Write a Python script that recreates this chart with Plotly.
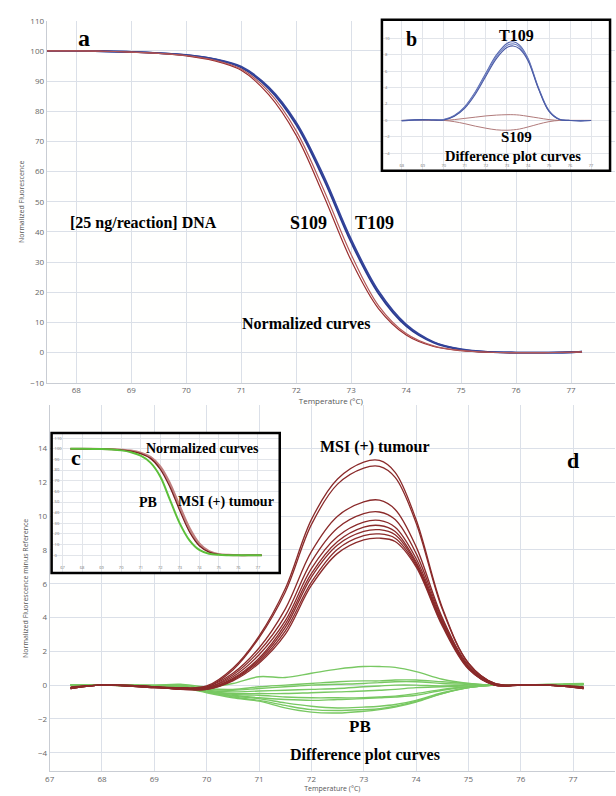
import plotly.graph_objects as go

W, H = 616, 796

# ---------------- Panel a : normalized melting curves ----------------
temp_a = [67.4, 68, 68.5, 69, 69.5, 70, 70.5, 71, 71.5, 72, 72.5, 73, 73.5, 74, 74.5, 75, 75.5, 76, 76.5, 77, 77.2]
s109_norm_1 = [100, 100, 99.9, 99.6, 99.2, 98.4, 96.8, 93.6, 85.5, 72, 52, 30.5, 14.5, 5.8, 2.0, 0.6, 0.1, 0, 0, 0.1, 0.2]
s109_norm_2 = [100, 100, 99.9, 99.6, 99.2, 98.5, 97.0, 94.0, 86.5, 73.5, 54, 32.5, 15.5, 6.3, 2.2, 0.7, 0.1, 0, 0, 0.1, 0.2]
t109_norm_1 = [100, 100, 99.9, 99.7, 99.3, 98.6, 97.3, 94.5, 87.5, 75.5, 57.5, 36.5, 19.5, 8.8, 3.3, 1.0, 0.2, 0, 0, 0.1, 0.3]
t109_norm_2 = [100, 100, 99.9, 99.7, 99.3, 98.7, 97.4, 94.8, 88, 76.3, 58.5, 37.5, 20.3, 9.3, 3.5, 1.1, 0.2, 0, 0, 0.1, 0.3]
ticks_a_x = [68, 69, 70, 71, 72, 73, 74, 75, 76, 77]
ticks_a_y = [-10, 0, 10, 20, 30, 40, 50, 60, 70, 80, 90, 100, 110]

# ---------------- Inset b : difference plot ----------------
temp_b = [68, 69, 69.5, 70, 70.5, 71, 71.5, 72, 72.5, 73, 73.3, 73.6, 74, 74.5, 75, 75.5, 76, 76.5, 77]
t109_diff_1 = [0, 0.1, 0.05, 0.1, 0.6, 1.7, 3.5, 5.8, 8.0, 9.4, 9.6, 9.2, 7.6, 4.0, 1.2, 0.15, 0, -0.05, 0]
t109_diff_2 = [0, 0.05, 0.1, 0.1, 0.55, 1.6, 3.4, 5.6, 7.8, 9.15, 9.35, 9.0, 7.45, 3.9, 1.15, 0.1, 0, 0, 0]
t109_diff_3 = [-0.05, 0.1, 0.05, 0.05, 0.5, 1.5, 3.2, 5.4, 7.55, 8.9, 9.1, 8.75, 7.3, 3.85, 1.1, 0.1, 0, -0.05, 0]
s109_diff_up = [0, 0, 0, 0, 0.1, 0.25, 0.4, 0.55, 0.65, 0.7, 0.7, 0.65, 0.5, 0.3, 0.1, 0, 0, 0, 0]
s109_diff_down = [0, 0, 0, 0, -0.15, -0.4, -0.7, -0.95, -1.15, -1.2, -1.15, -1.05, -0.8, -0.45, -0.15, 0, 0, 0, 0]
ticks_b_x = [68, 69, 70, 71, 72, 73, 74, 75, 76, 77]
ticks_b_y = [-4, -2, 0, 2, 4, 6, 8, 10]

# ---------------- Panel d : difference plot ----------------
temp_d = [67.4, 68, 69, 69.5, 70, 70.5, 71, 71.5, 72, 72.5, 73, 73.3, 73.6, 74, 74.5, 75, 75.5, 76, 76.5, 77.2]
msi_diff = [
    [-0.15, 0.0, -0.1, -0.15, -0.05, 1.0, 2.9, 5.7, 9.8, 12.2, 13.2, 13.3, 12.6, 9.8, 4.6, 1.3, 0.1, 0.0, 0.0, -0.15],
    [-0.1, 0.0, -0.1, -0.2, -0.1, 0.9, 2.8, 5.5, 9.5, 11.9, 12.85, 12.95, 12.3, 9.6, 4.5, 1.3, 0.1, 0.0, 0.0, -0.1],
    [-0.2, 0.0, -0.15, -0.2, -0.1, 0.7, 2.2, 4.5, 7.9, 10.0, 10.85, 10.95, 10.4, 8.2, 4.0, 1.2, 0.1, 0.0, 0.0, -0.15],
    [-0.15, 0.0, -0.1, -0.2, -0.15, 0.6, 2.0, 4.1, 7.3, 9.3, 10.15, 10.25, 9.8, 7.8, 3.9, 1.1, 0.05, 0.0, 0.0, -0.1],
    [-0.2, 0.0, -0.1, -0.25, -0.15, 0.5, 1.8, 3.8, 6.9, 8.8, 9.65, 9.75, 9.35, 7.5, 3.8, 1.1, 0.05, 0.0, 0.0, -0.2],
    [-0.15, 0.0, -0.15, -0.2, -0.2, 0.4, 1.6, 3.6, 6.6, 8.5, 9.35, 9.45, 9.1, 7.3, 3.7, 1.0, 0.05, 0.0, 0.0, -0.15],
    [-0.2, 0.0, -0.1, -0.25, -0.2, 0.35, 1.5, 3.4, 6.4, 8.3, 9.1, 9.2, 8.9, 7.2, 3.6, 1.0, 0.0, 0.0, 0.0, -0.2],
    [-0.15, 0.0, -0.15, -0.2, -0.25, 0.3, 1.4, 3.2, 6.1, 8.05, 8.85, 8.95, 8.7, 7.1, 3.6, 1.0, 0.0, 0.0, 0.0, -0.15],
    [-0.2, 0.0, -0.1, -0.25, -0.25, 0.25, 1.3, 3.0, 5.9, 7.8, 8.6, 8.7, 8.5, 7.0, 3.5, 0.95, 0.0, 0.0, 0.0, -0.2],
]
pb_diff = [
    [0.0, 0.0, 0.0, 0.05, -0.1, 0.1, 0.5, 0.45, 0.7, 0.95, 1.1, 1.1, 1.05, 0.8, 0.35, 0.1, 0.0, 0.0, 0.0, 0.05],
    [0.0, 0.0, -0.05, 0.0, -0.2, -0.25, -0.1, 0.0, 0.1, 0.2, 0.25, 0.25, 0.3, 0.3, 0.2, 0.1, 0.0, 0.0, 0.0, 0.05],
    [0.0, 0.0, 0.0, -0.05, -0.25, -0.3, -0.2, -0.1, 0.0, 0.05, 0.1, 0.15, 0.2, 0.2, 0.1, 0.05, 0.0, 0.0, 0.05, 0.1],
    [0.0, 0.0, -0.05, -0.05, -0.3, -0.4, -0.35, -0.3, -0.25, -0.2, -0.1, -0.05, 0.0, 0.0, -0.05, 0.0, 0.0, 0.0, 0.0, 0.05],
    [0.0, 0.0, -0.05, -0.1, -0.35, -0.5, -0.5, -0.5, -0.45, -0.4, -0.35, -0.3, -0.25, -0.15, -0.1, -0.05, 0.0, 0.0, 0.0, 0.0],
    [0.0, 0.0, -0.05, -0.1, -0.35, -0.55, -0.6, -0.7, -0.75, -0.75, -0.75, -0.7, -0.65, -0.5, -0.25, -0.1, 0.0, 0.0, 0.0, 0.05],
    [0.0, 0.0, -0.05, -0.1, -0.4, -0.6, -0.75, -0.85, -0.9, -0.85, -0.8, -0.75, -0.7, -0.6, -0.3, -0.1, 0.0, 0.0, 0.0, 0.05],
    [0.0, 0.0, -0.05, -0.1, -0.4, -0.65, -0.8, -1.05, -1.25, -1.35, -1.3, -1.25, -1.15, -0.9, -0.45, -0.15, 0.0, 0.0, 0.0, 0.05],
    [0.0, 0.0, -0.05, -0.15, -0.4, -0.7, -0.9, -1.2, -1.45, -1.5, -1.45, -1.4, -1.25, -0.95, -0.5, -0.15, 0.0, 0.0, 0.0, 0.05],
    [0.0, 0.0, -0.05, -0.15, -0.45, -0.75, -0.95, -1.35, -1.6, -1.65, -1.55, -1.45, -1.3, -1.0, -0.5, -0.15, 0.0, 0.0, 0.0, 0.05],
]
ticks_d_x = [67, 68, 69, 70, 71, 72, 73, 74, 75, 76, 77]
ticks_d_y = [-4, -2, 0, 2, 4, 6, 8, 10, 12, 14]

# ---------------- Inset c : normalized curves ----------------
temp_c = [67.4, 68, 69, 69.5, 70, 70.5, 71, 71.5, 72, 72.5, 73, 73.5, 74, 74.5, 75, 75.5, 76, 76.5, 77.2]
pb_norm = [100, 100, 99.7, 99.3, 98.5, 96.8, 93.5, 87, 74, 52, 30, 14, 5, 1.5, 0.4, 0.1, 0, 0, 0]
msi_norm_1 = [100, 100, 99.8, 99.5, 98.9, 97.8, 95.5, 91, 81, 64, 42, 22, 9, 3, 0.8, 0.2, 0, 0, 0]
msi_norm_2 = [100, 100, 99.8, 99.6, 99.1, 98.2, 96.2, 92.3, 83.5, 67.5, 46, 25.5, 11, 3.8, 1.0, 0.3, 0, 0, 0]
ticks_c_x = [67, 68, 69, 70, 71, 72, 73, 74, 75, 76, 77]
ticks_c_y = [-10, 0, 10, 20, 30, 40, 50, 60, 70, 80, 90, 100, 110]


def px(x):
    return x / W


def py(y):
    return 1 - y / H


GRID = "#dbe0e8"
AXL = "#c9cdd4"
TICKF = dict(family="Open Sans, Noto Sans, sans-serif", size=8, color="#666")
TINYF = dict(family="Open Sans, Noto Sans, sans-serif", size=4, color="#777")
SERIF = "Liberation Serif, Times New Roman, serif"

fig = go.Figure()

# panel a traces
for ys, col in [(t109_norm_1, "#2b3a8f"), (t109_norm_2, "#33449a")]:
    fig.add_trace(go.Scatter(x=temp_a, y=ys, mode="lines", line=dict(color=col, width=1.8, shape="spline"),
                             xaxis="x", yaxis="y", hoverinfo="skip"))
for ys, col in [(s109_norm_1, "#9a2e2e"), (s109_norm_2, "#b35a5a")]:
    fig.add_trace(go.Scatter(x=temp_a, y=ys, mode="lines", line=dict(color=col, width=1.2, shape="spline"),
                             xaxis="x", yaxis="y", hoverinfo="skip"))

# inset b traces
for ys in [s109_diff_up, s109_diff_down]:
    fig.add_trace(go.Scatter(x=temp_b, y=ys, mode="lines", line=dict(color="#b07a7a", width=1, shape="spline"),
                             xaxis="x2", yaxis="y2", hoverinfo="skip"))
for ys, col in [(t109_diff_1, "#5568b0"), (t109_diff_2, "#7585c4"), (t109_diff_3, "#4a5aa5")]:
    fig.add_trace(go.Scatter(x=temp_b, y=ys, mode="lines", line=dict(color=col, width=1.1, shape="spline"),
                             xaxis="x2", yaxis="y2", hoverinfo="skip"))

# panel d traces
for ys in pb_diff:
    fig.add_trace(go.Scatter(x=temp_d, y=ys, mode="lines", line=dict(color="#78c862", width=1.4, shape="spline"),
                             xaxis="x3", yaxis="y3", hoverinfo="skip"))
for ys in msi_diff:
    fig.add_trace(go.Scatter(x=temp_d, y=ys, mode="lines", line=dict(color="#8a2a2a", width=1.3, shape="spline"),
                             xaxis="x3", yaxis="y3", hoverinfo="skip"))

# inset c traces
fig.add_trace(go.Scatter(x=temp_c, y=msi_norm_2, mode="lines", line=dict(color="#c08080", width=2.2, shape="spline"),
                         xaxis="x4", yaxis="y4", hoverinfo="skip"))
fig.add_trace(go.Scatter(x=temp_c, y=msi_norm_1, mode="lines", line=dict(color="#7a2020", width=1.3, shape="spline"),
                         xaxis="x4", yaxis="y4", hoverinfo="skip"))
fig.add_trace(go.Scatter(x=temp_c, y=pb_norm, mode="lines", line=dict(color="#5cbf3a", width=2.0, shape="spline"),
                         xaxis="x4", yaxis="y4", hoverinfo="skip"))

# ---------- axes ----------
main_ax = dict(showgrid=True, gridcolor=GRID, gridwidth=1, showline=True, linecolor=AXL, zeroline=False,
               tickfont=TICKF, ticks="", tickmode="array")
inset_ax = dict(showgrid=True, gridcolor="#e2e5ea", gridwidth=1, showline=False, zeroline=False,
                tickfont=TINYF, ticks="", tickmode="array", ticklabelposition="inside")

fig.update_layout(
    # panel a: x 42..615 px, y 15..382 px
    xaxis=dict(**main_ax, domain=[px(42), px(615)], range=[67.46, 77.8], tickvals=ticks_a_x, anchor="y",
               title=dict(text="Temperature (°C)", font=dict(size=8, color="#555", family=TICKF["family"]), standoff=2)),
    yaxis=dict(**main_ax, domain=[py(382), py(15)], range=[-10, 110], tickvals=ticks_a_y, anchor="x",
               title=dict(text="Normalized Fluorescence", font=dict(size=7, color="#555", family=TICKF["family"]), standoff=4)),
    # inset b: box 380..610 x 14..167
    xaxis2=dict(**inset_ax, domain=[px(380), px(610)], range=[67.06, 77.9], tickvals=ticks_b_x, anchor="y2"),
    yaxis2=dict(**inset_ax, domain=[py(167), py(14)], range=[-6.14, 12.29], tickvals=ticks_b_y, anchor="x2"),
    # panel d: x 45..615 px, y 405..776 px
    xaxis3=dict(**main_ax, domain=[px(45), px(615)], range=[67.0, 77.8], tickvals=ticks_d_x, anchor="y3",
                title=dict(text="Temperature (°C)", font=dict(size=7, color="#555", family=TICKF["family"]), standoff=0)),
    yaxis3=dict(**main_ax, domain=[py(776), py(405)], range=[-5.1, 16.56], tickvals=ticks_d_y, anchor="x3",
                title=dict(text="Normalized Fluorescence minus Reference", font=dict(size=7, color="#555", family=TICKF["family"]), standoff=8)),
    # inset c: box 47..277 x 433..575
    xaxis4=dict(**inset_ax, domain=[px(47), px(277)], range=[66.44, 78.12], tickvals=ticks_c_x, anchor="y4"),
    yaxis4=dict(**inset_ax, domain=[py(575), py(433)], range=[-16.7, 114.8], tickvals=ticks_c_y, anchor="x4"),
)

# white backgrounds for insets (drawn in the inset subplot, above main panel) and black frames
shapes = [
    dict(type="rect", xref="x2", yref="y2", x0=67.06, x1=77.9, y0=-6.14, y1=12.29, fillcolor="white",
         line=dict(width=0), layer="below"),
    dict(type="rect", xref="x4", yref="y4", x0=66.44, x1=78.12, y0=-16.7, y1=114.8, fillcolor="white",
         line=dict(width=0), layer="below"),
    dict(type="rect", xref="paper", yref="paper", x0=px(380), x1=px(610), y0=py(167), y1=py(14),
         line=dict(color="black", width=2.5), layer="above"),
    dict(type="rect", xref="paper", yref="paper", x0=px(47), x1=px(277), y0=py(575), y1=py(433),
         line=dict(color="black", width=2.5), layer="above"),
]


def ann(text, x, y, size):
    return dict(text="<b>" + text + "</b>", x=px(x), y=py(y), xref="paper", yref="paper", showarrow=False,
                font=dict(family=SERIF, size=size, color="black"), xanchor="center", yanchor="middle",
                borderpad=0)


annotations = [
    ann("a", 80, 32, 24),
    ann("[25 ng/reaction] DNA", 140, 220, 16),
    ann("S109", 306, 220, 18),
    ann("T109", 373, 220, 18),
    ann("Normalized curves", 303, 322, 16),
    ann("b", 410, 33, 20),
    ann("T109", 516, 30, 16),
    ann("S109", 516, 133, 15),
    ann("Difference plot curves", 512, 152, 14.5),
    ann("c", 72, 458, 22),
    ann("Normalized curves", 199, 449, 14),
    ann("PB", 144, 503, 14),
    ann("MSI (+) tumour", 223, 503, 14),
    ann("MSI (+) tumour", 373, 447, 16),
    ann("d", 573, 461, 22),
    ann("PB", 358, 731, 17),
    ann("Difference plot curves", 363, 760, 16),
]

fig.update_layout(
    width=W, height=H, margin=dict(l=0, r=0, t=0, b=0),
    paper_bgcolor="white", plot_bgcolor="#fffffe",
    showlegend=False, shapes=shapes, annotations=annotations,
)

fig.write_html("out.html", config={"displayModeBar": False},
               post_script="document.body.style.margin='0px';document.body.style.overflow='hidden';")
